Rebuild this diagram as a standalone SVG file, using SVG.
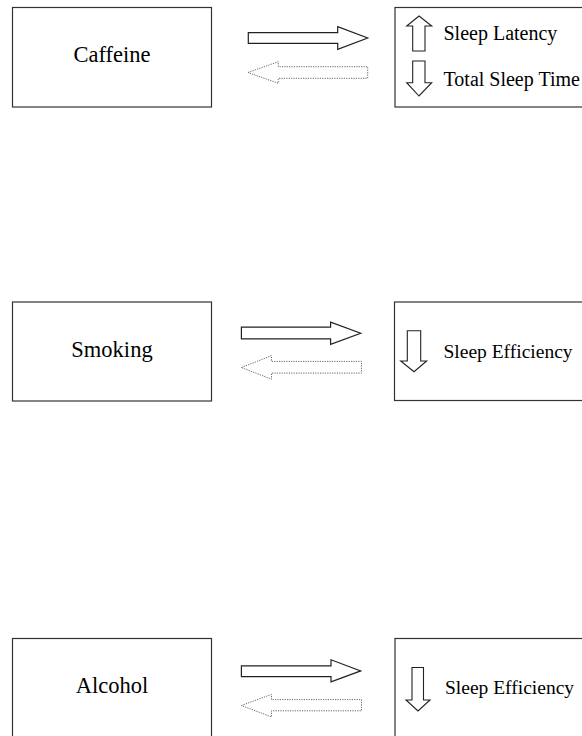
<svg xmlns="http://www.w3.org/2000/svg" width="582" height="736" viewBox="0 0 582 736">
<style>
.box{fill:#fff;stroke:#333;stroke-width:1.2}
.lbl{font-family:"Liberation Serif","Times New Roman",serif;font-size:22.5px;fill:#000;text-anchor:middle}
.out{font-family:"Liberation Serif","Times New Roman",serif;font-size:20px;fill:#000}
.eff{font-size:19.5px}
.sym{fill:#fff;stroke:#222;stroke-width:1.1;stroke-linejoin:miter}
.fwd{fill:#fff;stroke:#222;stroke-width:1.2}
.back{fill:#fff;stroke:#666;stroke-width:1;stroke-dasharray:1.2 1.2}
</style>
<rect width="582" height="736" fill="#fff"/>

<g id="caffeine">
<rect class="box" x="12.5" y="7.5" width="199" height="99.5"/>
<text class="lbl" x="112" y="62">Caffeine</text>
</g>
<g id="caffeine-effects">
<rect class="box" x="395" y="7.5" width="199" height="99.5"/>
<polygon class="sym" points="419,16 431.7,26 425,26 425,51 412.7,51 412.7,26 406.7,26"/>
<text class="out" x="443.5" y="40">Sleep Latency</text>
<polygon class="sym" points="412.7,61 425,61 425,82.7 431.7,82.7 419,96 406.7,82.7 412.7,82.7"/>
<text class="out" x="443.5" y="86">Total Sleep Time</text>
</g>

<g id="smoking">
<rect class="box" x="12.5" y="302" width="199" height="99"/>
<text class="lbl" x="112" y="356.5">Smoking</text>
</g>
<g id="smoking-effects">
<rect class="box" x="394.5" y="302" width="199" height="98.5"/>
<polygon class="sym" points="407.3,330.7 420.7,330.7 420.7,361 426.7,361 414,371.7 400.7,361 407.3,361"/>
<text class="out eff" x="443.5" y="357.5">Sleep Efficiency</text>
</g>

<g id="alcohol">
<rect class="box" x="12.5" y="638.5" width="199" height="100"/>
<text class="lbl" x="112" y="693.4">Alcohol</text>
</g>
<g id="alcohol-effects">
<rect class="box" x="395" y="638.5" width="199" height="100"/>
<polygon class="sym" points="412,667.5 423.5,667.5 423.5,700 430,700 418,711 406,700 412,700"/>
<text class="out eff" x="445" y="694">Sleep Efficiency</text>
</g>

<g id="connectors">
<polygon class="fwd" points="248.3,32.7 337.7,32.7 337.7,26.7 367.7,38 337.7,49.3 337.7,43.3 248.3,43.3"/>
<polygon class="back" points="248,72.5 278.3,61.7 278.3,66.7 367.7,66.7 367.7,78.3 278.3,78.3 278.3,83.3"/>

<polygon class="fwd" points="241.4,327.2 330.6,327.2 330.6,322.1 360.7,333.2 330.6,344.3 330.6,338.9 241.4,338.9"/>
<polygon class="back" points="241.4,367.5 271.5,355.7 271.5,361.4 361.5,361.4 361.5,373.1 271.5,373.1 271.5,379.2"/>

<polygon class="fwd" points="241.4,665.9 331,665.9 331,659.8 360.7,670.9 331,681.8 331,676.6 241.4,676.6"/>
<polygon class="back" points="241.4,705.5 271.5,694.4 271.5,699.6 361.5,699.6 361.5,710.8 271.5,710.8 271.5,716.9"/>
</g>
</svg>
